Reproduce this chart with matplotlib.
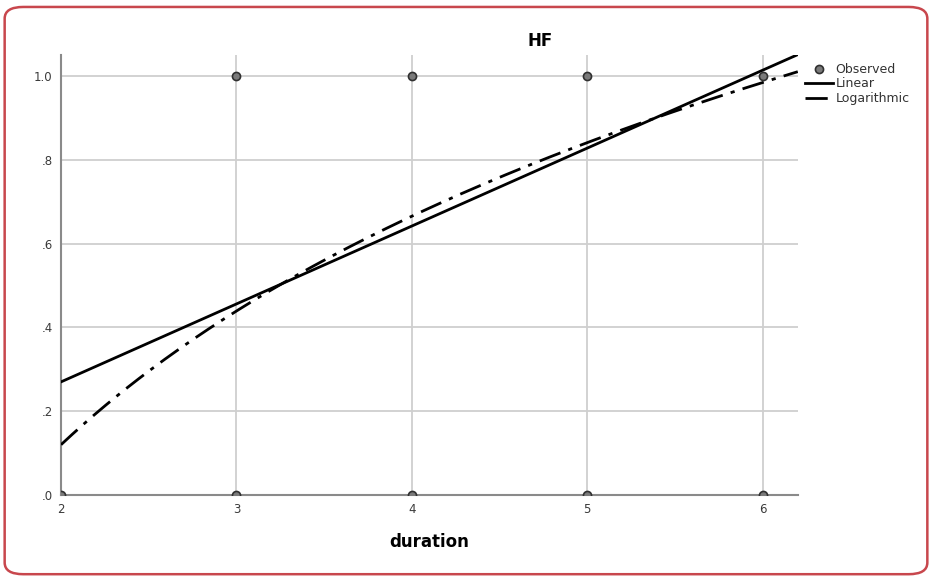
import numpy as np
import matplotlib.pyplot as plt
from matplotlib.patches import FancyBboxPatch

# observed values (binary outcome)
obs_x = [2, 3, 3, 4, 4, 5, 5, 6, 6]
obs_y = [0, 0, 1, 0, 1, 0, 1, 0, 1]

# fitted curves
lin_coef = [-0.102, 0.186]      # y = b0 + b1*x
log_coef = [-0.4255, 0.787]     # y = b0 + b1*ln(x)

x_ticks = [2, 3, 4, 5, 6]
y_ticks = [0.0, 0.2, 0.4, 0.6, 0.8, 1.0]
y_labels = ['.0', '.2', '.4', '.6', '.8', '1.0']

fig = plt.figure(figsize=(9.32, 5.8), dpi=100)
ax = fig.add_axes([0.0655, 0.1466, 0.7905, 0.7584])

# rounded red border around the whole picture
fig.patches.append(FancyBboxPatch((0.005, 0.01), 0.99, 0.978,
                                  boxstyle='round,pad=0,rounding_size=0.02',
                                  transform=fig.transFigure, fill=False,
                                  edgecolor='#c8474d', linewidth=1.8))

xs = np.linspace(2, 6.2, 200)
ax.scatter(obs_x, obs_y, s=34, color='#7a7a7a', edgecolor='#303030',
           linewidth=1.2, zorder=4, label='Observed')
ax.plot(xs, lin_coef[0] + lin_coef[1] * xs, color='black', lw=2,
        label='Linear', zorder=3)
ax.plot(xs, log_coef[0] + log_coef[1] * np.log(xs), color='black', lw=2,
        dashes=(8, 3, 1.5, 3), label='Logarithmic', zorder=3)

ax.set_xlim(2, 6.2)
ax.set_ylim(0, 1.05)
ax.set_xticks(x_ticks)
ax.set_xticklabels([str(t) for t in x_ticks])
ax.set_yticks(y_ticks)
ax.set_yticklabels(y_labels)
ax.tick_params(length=0, labelsize=8.5, labelcolor='#3a3a3a', pad=6)
ax.grid(True, color='#cfcfcf', linewidth=1.3)
ax.set_axisbelow(True)
for s in ['top', 'right']:
    ax.spines[s].set_visible(False)
for s in ['left', 'bottom']:
    ax.spines[s].set_color('#8a8a8a')
    ax.spines[s].set_linewidth(1.5)

ax.set_xlabel('duration', fontsize=12, fontweight='bold', labelpad=12)
fig.text(0.58, 0.93, 'HF', fontsize=12, fontweight='bold', ha='center', va='center')

leg = ax.legend(loc='upper left', bbox_to_anchor=(1.0, 1.0), frameon=False,
                fontsize=9, handlelength=2.2, handletextpad=0.2,
                borderaxespad=0.2, labelspacing=0.15)
for t in leg.get_texts():
    t.set_color('#333333')

fig.savefig('out.png', dpi=100)
